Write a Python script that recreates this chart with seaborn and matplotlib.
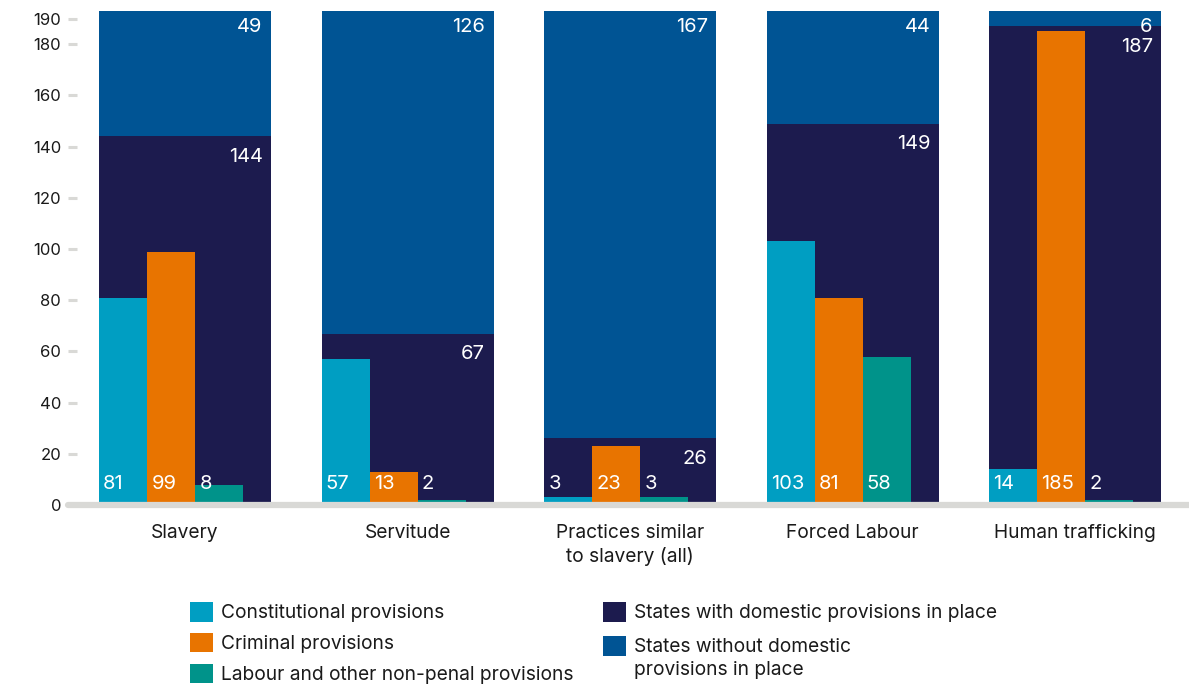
"""Legal provisions against modern slavery, by type of practice"""

import matplotlib
matplotlib.use("Agg")
import matplotlib.pyplot as plt
from matplotlib.patches import Patch, Rectangle
from matplotlib.legend_handler import HandlerPatch
import seaborn as sns
import pandas as pd
import numpy as np

# Data
categories = ["Slavery", "Servitude", "Practices similar\nto slavery (all)",
              "Forced Labour", "Human trafficking"]
constitutional = [81, 57, 3, 103, 14]
criminal = [99, 13, 23, 81, 185]
labour = [8, 2, 3, 58, 2]
with_provisions = [144, 67, 26, 149, 187]
without_provisions = [49, 126, 167, 44, 6]

provision_names = ["Constitutional provisions", "Criminal provisions",
                   "Labour and other non-penal provisions"]
state_names = ["States with domestic provisions in place",
               "States without domestic\nprovisions in place"]
yticks = [0, 20, 40, 60, 80, 100, 120, 140, 160, 180, 190]

# Styling
provision_colors = ["#009ec2", "#e87400", "#00938a"]
navy = "#1c1b4e"
blue = "#005494"
grey = "#d9d9d6"
text_color = "#1a1a1a"

sns.set_style("white")
plt.rcParams["font.family"] = ["Inter", "DejaVu Sans"]

wide = 0.773
narrow = 0.216
pos = np.arange(len(categories), dtype=float)
totals = np.array(with_provisions) + np.array(without_provisions)

fig = plt.figure(figsize=(11.89, 6.84), dpi=100)
ax = fig.add_axes([68 / 1189, 1 - 505 / 684, (1189 - 68) / 1189, (505 - 11) / 684])

# Stacked background bars (total first, domestic provisions on top)
sns.barplot(x=pos, y=totals, native_scale=True, width=wide, color=blue,
            saturation=1, linewidth=0, errorbar=None, ax=ax)
sns.barplot(x=pos, y=with_provisions, native_scale=True, width=wide, color=navy,
            saturation=1, linewidth=0, errorbar=None, ax=ax)

# Narrow provision bars, packed against the left edge of each wide bar
left_edge = pos - wide / 2
group_center = left_edge + 1.5 * narrow
df = pd.DataFrame({
    "pos": np.tile(group_center, 3),
    "value": constitutional + criminal + labour,
    "kind": np.repeat(provision_names, len(categories)),
})
sns.barplot(data=df, x="pos", y="value", hue="kind", hue_order=provision_names,
            palette=provision_colors, native_scale=True, width=3 * narrow,
            dodge=True, gap=0, saturation=1, linewidth=0, errorbar=None,
            legend=False, ax=ax)

# Value labels
for i in range(len(categories)):
    right = pos[i] + wide / 2
    ax.annotate(str(without_provisions[i]), (right, totals[i]), xytext=(-6, -11.5),
                textcoords="offset points", ha="right", va="center",
                color="white", fontsize=14.5)
    ax.annotate(str(with_provisions[i]), (right, with_provisions[i]), xytext=(-6, -15),
                textcoords="offset points", ha="right", va="center",
                color="white", fontsize=14.5)
    for j, vals in enumerate([constitutional, criminal, labour]):
        ax.annotate(str(vals[i]), (left_edge[i] + j * narrow, 0), xytext=(3, 15),
                    textcoords="offset points", ha="left", va="center",
                    color="white", fontsize=14.5)

# Axes
ax.axhline(0, color=grey, lw=4.5, zorder=5, clip_on=False)
ax.set_xlim(-0.526, 4.512)
ax.set_ylim(0, 193)
ax.set_yticks(yticks)
ax.set_xticks(pos)
ax.set_xticklabels(categories, linespacing=1.3)
ax.set_xlabel("")
ax.set_ylabel("")
ax.tick_params(axis="y", direction="in", length=6.5, width=2.2, color=grey,
               pad=5, labelsize=12, labelcolor=text_color, left=True)
ax.tick_params(axis="x", length=0, pad=14, labelsize=13.8, labelcolor=text_color)
sns.despine(ax=ax, left=True, bottom=True)


def raised_square(legend, orig_handle, xdescent, ydescent, width, height, fontsize):
    # keep the square level with the first line of a two-line label
    shift = 0.66 * fontsize if "\n" in orig_handle.get_label() else 0
    return Rectangle((-xdescent, -ydescent + shift), width, height)


# Legends
leg_kw = dict(frameon=False, fontsize=13.8, loc="upper left", borderpad=0,
              borderaxespad=0, handlelength=1.2, handleheight=1.2,
              handletextpad=0.4, labelcolor=text_color,
              handler_map={Patch: HandlerPatch(patch_func=raised_square)})
fig.legend(handles=[Patch(facecolor=c, edgecolor="none", label=n)
                    for c, n in zip(provision_colors, provision_names)],
           bbox_to_anchor=(190 / 1189, 1 - 602 / 684), labelspacing=0.55, **leg_kw)
leg2 = fig.legend(handles=[Patch(facecolor=c, edgecolor="none", label=n)
                           for c, n in zip([navy, blue], state_names)],
                  bbox_to_anchor=(603 / 1189, 1 - 602 / 684), labelspacing=0.8, **leg_kw)
for t in leg2.get_texts():
    t.set_linespacing(1.4)

plt.savefig("out.png", dpi=100)
plt.close()
